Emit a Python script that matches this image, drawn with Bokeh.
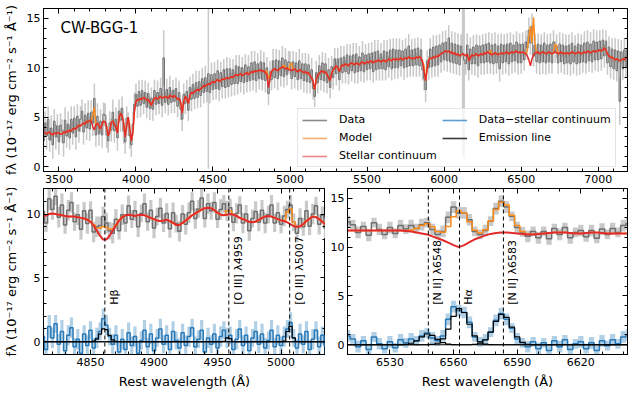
import numpy as np
from bokeh.plotting import figure
from bokeh.models import (SingleIntervalTicker, FixedTicker, LinearAxis, Legend, LegendItem,
                          Span, Label, CustomJSTickFormatter)
from bokeh.layouts import column, row
from bokeh.embed import file_html
from bokeh.resources import INLINE
from bokeh.core.properties import value

FONT = "DejaVu Sans"

# ---------------- data: full spectrum (rest frame, 10 A pixels) ----------------
top_start, top_step = 3400.0, 10.0
flux_top = [
    2.6, 4.4, 3.1, 4.8, 2.7, 3.9, 2.2, 4.6, 3.0, 4.1,
    2.5, 4.2, 3.6, 2.4, 4.7, 3.1, 4.3, 2.9, 4.8, 3.4,
    4.9, 3.0, 5.1, 3.6, 4.8, 5.6, 3.5, 5.2, 3.9, 5.4,
    3.8, 5.5, 4.4, 6.9, 3.2, 5.1, 3.3, 4.6, 3.2, 5.3,
    5.2, 3.2, 2.6, 4.4, 3.7, 5.5, 3.6, 4.8, 2.9, 5.6,
    4.7, 5.9, 3.6, 2.5, 4.9, 4.3, 3.1, 2.2, 4.3, 6.3,
    7.3, 6.1, 7.6, 6.2, 7.7, 6.4, 7.5, 6.0, 7.4, 5.9,
    6.9, 5.8, 7.7, 6.3, 7.5, 6.4, 7.9, 6.2, 11.0, 6.5,
    7.8, 6.3, 8.0, 6.5, 7.7, 6.6, 7.9, 6.1, 7.5, 5.8,
    4.8, 7.3, 6.4, 7.6, 5.7, 8.0, 6.8, 8.3, 6.9, 8.5,
    7.0, 8.6, 7.2, 8.9, 7.5, 9.0, 7.6, 9.4, 7.5, 9.3,
    7.8, 9.4, 7.9, 9.7, 7.8, 9.5, 8.1, 9.8, 8.0, 9.9,
    8.1, 9.9, 8.3, 9.8, 8.4, 10.2, 8.4, 10.1, 8.6, 10.0,
    8.5, 10.3, 8.6, 10.1, 8.7, 10.5, 8.8, 10.6, 8.7, 10.4,
    8.9, 10.6, 8.8, 10.5, 8.7, 10.0, 7.4, 9.6, 8.8, 10.7,
    9.0, 10.8, 8.9, 10.7, 9.2, 11.0, 9.1, 10.8, 9.3, 10.6,
    10.5, 8.9, 10.6, 9.1, 10.5, 8.8, 10.7, 8.9, 10.4, 8.7,
    10.4, 8.6, 10.3, 8.5, 9.8, 7.9, 7.1, 9.5, 8.5, 10.2,
    8.8, 10.5, 8.7, 10.4, 8.5, 9.8, 8.0, 10.1, 9.0, 10.9,
    9.4, 10.9, 8.8, 11.0, 9.5, 11.1, 9.6, 11.3, 9.4, 11.2,
    9.7, 11.3, 9.5, 11.4, 9.6, 11.1, 9.7, 11.5, 9.6, 11.3,
    9.8, 11.4, 9.9, 11.5, 9.6, 11.6, 9.8, 11.7, 9.9, 11.4,
    9.9, 11.7, 9.8, 11.6, 10.1, 11.8, 9.9, 11.9, 10.0, 11.8,
    10.0, 11.8, 10.2, 11.7, 10.0, 11.9, 10.1, 12.2, 10.2, 11.8,
    10.2, 11.9, 10.3, 12.0, 10.2, 11.8, 9.8, 8.9, 7.8, 10.7,
    10.0, 11.9, 10.1, 12.1, 10.2, 12.2, 10.3, 12.3, 10.6, 12.5,
    10.8, 12.6, 10.7, 13.0, 10.6, 12.5, 10.5, 12.4, 10.4, 12.3,
    10.3, 12.2, 11.5, 10.8, 10.4, 12.3, 9.8, 11.9, 10.4, 12.1,
    10.4, 12.3, 10.2, 12.2, 10.5, 12.3, 10.5, 12.4, 10.6, 12.5,
    10.5, 12.3, 10.4, 12.4, 10.5, 12.2, 9.9, 12.4, 10.5, 12.3,
    10.6, 12.4, 10.4, 12.5, 10.6, 12.3, 10.7, 12.6, 10.5, 12.4,
    10.5, 12.4, 10.8, 12.6, 12.0, 13.8, 12.5, 14.2, 11.2, 12.3,
    10.6, 12.4, 10.5, 12.3, 10.6, 12.5, 10.5, 12.3, 10.6, 12.4,
    10.5, 12.6, 11.6, 12.2, 10.5, 12.4, 10.6, 12.3, 10.4, 12.2,
    10.5, 12.3, 10.4, 12.5, 10.6, 12.2, 10.4, 12.4, 10.5, 12.3,
    10.6, 12.5, 10.5, 12.6, 10.7, 12.4, 10.6, 12.7, 10.8, 12.6,
    10.8, 12.7, 10.9, 12.8, 11.2, 12.7, 10.5, 12.1, 10.1, 11.9,
    9.9, 11.8, 9.7, 11.7, 6.6, 11.6, 9.9, 11.8, 10.1, 12.0,
]
err_top = [
    1.3, 1.2, 1.4, 1.3, 1.2, 1.3, 1.4, 1.2, 1.3, 1.2,
    1.3, 1.2, 1.2, 1.4, 1.3, 1.2, 1.3, 1.2, 1.3, 1.2,
    1.2, 1.3, 1.2, 1.2, 1.3, 1.2, 1.3, 1.2, 1.2, 1.3,
    1.2, 1.2, 1.3, 1.5, 1.2, 1.3, 1.2, 1.2, 1.3, 1.2,
    1.2, 1.3, 1.2, 1.2, 1.2, 1.3, 1.2, 1.2, 1.3, 1.2,
    1.2, 1.2, 1.3, 1.2, 1.2, 1.2, 1.3, 1.2, 1.2, 1.2,
    1.1, 1.2, 1.1, 1.2, 1.1, 1.1, 1.2, 1.1, 1.1, 1.2,
    1.1, 1.2, 1.1, 1.1, 1.2, 1.1, 1.1, 1.2, 2.8, 1.1,
    1.1, 1.1, 1.2, 1.1, 1.1, 1.2, 1.1, 1.1, 1.2, 1.1,
    1.2, 1.1, 1.1, 1.2, 1.1, 1.1, 1.2, 1.1, 1.1, 1.2,
    1.1, 1.1, 1.2, 1.1, 1.1, 1.2, 1.1, 9.6, 1.1, 1.2,
    1.1, 1.2, 1.1, 1.1, 1.2, 1.1, 1.2, 1.1, 1.1, 1.2,
    1.1, 1.1, 1.2, 1.1, 1.2, 1.1, 1.1, 1.2, 1.1, 1.1,
    1.2, 1.1, 1.1, 1.2, 1.1, 1.2, 1.1, 1.1, 1.2, 1.1,
    1.1, 1.2, 1.1, 1.1, 1.2, 1.1, 1.2, 1.1, 1.1, 1.2,
    1.1, 1.1, 1.2, 1.1, 1.1, 1.2, 1.1, 1.2, 1.1, 1.1,
    1.2, 1.1, 1.1, 1.2, 1.1, 1.1, 1.2, 1.1, 1.1, 1.2,
    1.1, 1.2, 1.1, 1.1, 1.2, 1.1, 1.1, 1.2, 1.1, 1.1,
    1.1, 1.1, 1.2, 1.1, 1.1, 1.2, 1.1, 1.1, 1.2, 1.1,
    1.2, 1.1, 1.1, 1.2, 1.1, 1.1, 1.2, 1.1, 1.1, 1.2,
    1.1, 1.2, 1.1, 1.1, 1.2, 1.1, 1.1, 1.2, 1.1, 1.1,
    1.1, 1.1, 1.2, 1.1, 1.1, 1.2, 1.1, 1.1, 1.2, 1.1,
    1.2, 1.1, 1.1, 1.2, 1.1, 1.1, 1.2, 1.1, 1.1, 1.2,
    1.1, 1.2, 1.1, 1.1, 1.2, 1.1, 1.1, 1.2, 1.1, 1.1,
    1.1, 1.1, 1.2, 1.1, 1.1, 1.2, 1.1, 1.2, 1.3, 1.1,
    1.2, 1.1, 1.1, 1.2, 1.1, 1.1, 1.2, 1.1, 1.1, 1.2,
    1.1, 1.2, 1.1, 1.3, 1.1, 1.2, 1.1, 1.2, 1.1, 1.2,
    1.1, 1.2, 10.3, 10.0, 1.1, 1.2, 1.1, 1.2, 1.1, 1.2,
    1.2, 1.1, 1.2, 1.1, 1.2, 1.1, 1.2, 1.1, 1.2, 1.1,
    1.1, 1.2, 1.1, 1.2, 1.1, 1.2, 1.3, 1.1, 1.2, 1.1,
    1.2, 1.1, 1.2, 1.1, 1.2, 1.1, 1.2, 1.1, 1.2, 1.1,
    1.1, 1.2, 1.1, 1.2, 1.2, 1.3, 1.2, 1.3, 1.1, 1.2,
    1.2, 1.1, 1.2, 1.1, 1.2, 1.1, 1.2, 1.1, 1.2, 1.1,
    1.1, 1.2, 1.1, 1.2, 1.1, 1.2, 1.1, 1.2, 1.1, 1.2,
    1.2, 1.1, 1.2, 1.1, 1.2, 1.1, 1.2, 1.1, 1.2, 1.1,
    1.1, 1.2, 1.1, 1.2, 1.1, 1.2, 1.1, 1.2, 1.1, 1.2,
    1.2, 1.1, 1.2, 1.1, 1.2, 1.1, 1.2, 1.1, 1.2, 1.1,
    1.1, 1.2, 1.1, 1.2, 2.4, 1.2, 1.1, 1.2, 1.1, 1.2,
]
cont_top = [
    3.5, 3.4, 3.3, 3.4, 3.5, 3.3, 3.2, 3.4, 3.3, 3.4,
    3.4, 3.3, 3.3, 3.5, 3.4, 3.6, 3.5, 3.7, 3.6, 3.8,
    3.9, 3.8, 4.0, 4.2, 4.1, 4.3, 4.4, 4.3, 4.6, 4.5,
    4.7, 4.6, 4.0, 3.7, 4.2, 4.4, 4.1, 3.8, 4.3, 4.6,
    4.5, 4.0, 3.1, 3.6, 4.5, 4.6, 4.3, 4.0, 3.4, 4.9,
    5.4, 5.1, 4.4, 3.0, 4.2, 5.0, 3.8, 2.6, 3.5, 5.6,
    6.6, 6.8, 6.7, 6.9, 6.8, 7.0, 6.9, 6.7, 6.8, 6.5,
    6.2, 6.6, 6.9, 7.0, 6.8, 7.0, 7.1, 6.9, 7.0, 7.1,
    7.0, 6.9, 7.2, 7.1, 7.0, 7.2, 7.0, 6.8, 6.9, 6.5,
    5.4, 6.6, 7.1, 6.8, 6.4, 7.2, 7.5, 7.4, 7.6, 7.7,
    7.8, 7.7, 7.9, 8.0, 8.2, 8.1, 8.3, 8.4, 8.3, 8.5,
    8.6, 8.5, 8.7, 8.8, 8.6, 8.7, 8.9, 8.8, 8.9, 9.0,
    8.9, 9.0, 9.1, 9.0, 9.2, 9.3, 9.2, 9.3, 9.4, 9.2,
    9.3, 9.4, 9.5, 9.3, 9.5, 9.6, 9.5, 9.7, 9.6, 9.7,
    9.7, 9.8, 9.6, 9.7, 9.5, 9.3, 8.0, 8.9, 9.6, 9.8,
    9.9, 9.8, 9.7, 9.9, 10.0, 10.1, 10.0, 9.9, 10.0, 9.8,
    9.8, 9.7, 9.8, 9.9, 9.7, 9.6, 9.8, 9.7, 9.6, 9.5,
    9.6, 9.4, 9.5, 9.2, 9.0, 8.6, 7.8, 8.8, 9.3, 9.4,
    9.6, 9.7, 9.5, 9.6, 9.3, 9.0, 8.7, 9.4, 9.8, 10.0,
    10.2, 10.0, 9.6, 10.1, 10.3, 10.2, 10.4, 10.3, 10.2, 10.4,
    10.5, 10.4, 10.3, 10.5, 10.4, 10.3, 10.5, 10.6, 10.4, 10.5,
    10.6, 10.5, 10.7, 10.6, 10.5, 10.7, 10.6, 10.8, 10.7, 10.6,
    10.7, 10.8, 10.6, 10.7, 10.9, 10.8, 10.7, 10.9, 10.8, 10.9,
    10.8, 10.9, 11.0, 10.8, 10.9, 11.0, 10.9, 11.1, 11.0, 10.9,
    11.0, 10.9, 11.1, 11.0, 11.1, 11.0, 10.6, 9.6, 8.7, 9.9,
    10.8, 11.0, 10.9, 11.1, 11.0, 11.2, 11.1, 11.3, 11.4, 11.5,
    11.6, 11.7, 11.6, 11.7, 11.5, 11.6, 11.4, 11.5, 11.3, 11.4,
    11.2, 11.3, 11.4, 11.3, 11.2, 11.4, 10.7, 11.0, 11.3, 11.2,
    11.3, 11.4, 11.2, 11.3, 11.4, 11.3, 11.5, 11.4, 11.6, 11.5,
    11.4, 11.3, 11.4, 11.5, 11.4, 11.3, 11.4, 11.5, 11.4, 11.5,
    11.5, 11.6, 11.4, 11.5, 11.6, 11.5, 11.6, 11.7, 11.5, 11.6,
    11.5, 11.6, 11.5, 11.4, 11.2, 10.8, 10.2, 10.9, 11.3, 11.5,
    11.5, 11.6, 11.4, 11.5, 11.6, 11.5, 11.4, 11.5, 11.6, 11.5,
    11.4, 11.5, 11.6, 11.5, 11.4, 11.5, 11.6, 11.4, 11.5, 11.4,
    11.5, 11.4, 11.5, 11.6, 11.5, 11.4, 11.5, 11.6, 11.5, 11.4,
    11.5, 11.6, 11.5, 11.7, 11.6, 11.5, 11.6, 11.7, 11.6, 11.7,
    11.7, 11.8, 11.7, 11.8, 12.0, 11.8, 11.4, 11.2, 11.0, 11.1,
    10.9, 10.8, 10.9, 10.8, 10.7, 10.8, 10.9, 10.8, 11.0, 11.1,
]
# emission-line part of the model in the full spectrum (pixel wavelength, flux)
lines_top_wave = [3720, 3730, 4850, 4860, 4870, 4960, 5000, 5010, 5870, 6300,
                  6540, 6550, 6560, 6570, 6580, 6590, 6720, 6730]
lines_top_flux = [1.2, 2.3, 0.4, 0.9, 0.3, 0.3, 0.5, 0.8, 0.6, 0.4,
                  0.6, 2.3, 4.0, 1.6, 3.8, 0.9, 0.8, 0.7]
top_xticks = [3500, 4000, 4500, 5000, 5500, 6000, 6500, 7000]

# ---------------- data: H-beta / [O III] window (2.5 A pixels) ----------------
left_start, left_step = 4812.5, 2.5
cont_l = [
    9.8, 9.9, 10.0, 10.05, 10.0, 9.95, 9.9, 9.85, 9.8, 9.8,
    9.8, 9.75, 9.7, 9.65, 9.55, 9.4, 9.1, 8.7, 8.3, 8.0,
    8.0, 8.3, 8.7, 9.1, 9.5, 9.75, 9.9, 9.95, 9.9, 9.85,
    9.9, 9.95, 9.9, 9.8, 9.7, 9.6, 9.5, 9.45, 9.5, 9.55,
    9.45, 9.3, 9.15, 9.15, 9.3, 9.5, 9.7, 9.9, 10.05, 10.2,
    10.35, 10.45, 10.5, 10.45, 10.3, 10.1, 9.95, 9.9, 9.95, 10.0,
    9.95, 9.85, 9.7, 9.6, 9.5, 9.4, 9.35, 9.4, 9.55, 9.7,
    9.8, 9.85, 9.8, 9.7, 9.6, 9.5, 9.45, 9.35, 9.2, 9.05,
    9.0, 9.05, 9.2, 9.45, 9.65, 9.8, 9.75, 9.6, 9.4, 9.2,
]
resid_l = [
    0.4, -0.6, 1.2, 0.3, 1.4, -0.2, 0.8, -0.7, 0.5, 1.1,
    -0.4, 0.2, -0.9, 0.6, -0.3, 0.9, -0.5, 0.3, 0.8, 1.8,
    1.3, 0.4, -0.2, 0.5, -0.8, 0.2, -0.6, 0.7, -0.3, 0.4,
    -0.9, 0.1, 0.9, -0.4, 0.6, -0.7, 0.3, 1.0, -0.2, 0.5,
    -0.6, 0.8, 0.1, -0.5, 0.7, -0.3, 0.4, 1.1, -0.4, 0.2,
    0.9, -0.8, 0.3, -0.2, 0.6, -0.5, 0.4, 0.9, 0.3, 0.5,
    -0.6, 0.2, 1.0, -0.3, 0.5, -0.7, 0.3, 0.8, -0.2, 0.6,
    -0.5, 0.1, 0.9, -0.4, 0.5, -0.3, 0.4, 1.0, 1.5, 0.3,
    -0.5, 0.6, -0.2, 0.8, -0.6, 0.2, 0.9, -0.4, 0.5, -0.3,
]
err_l = [
    0.8, 0.7, 0.9, 0.8, 0.7, 0.8, 0.9, 0.7, 0.8, 0.8,
    0.7, 0.8, 0.8, 0.7, 0.8, 0.7, 0.8, 0.8, 0.7, 0.8,
    0.8, 0.7, 0.8, 0.8, 0.7, 0.8, 0.7, 0.8, 0.7, 0.8,
    0.8, 0.7, 0.8, 0.7, 0.8, 0.8, 0.7, 0.8, 0.7, 0.8,
    0.7, 0.8, 0.7, 0.8, 0.7, 0.8, 0.8, 0.7, 0.8, 0.7,
    0.8, 0.7, 0.8, 0.7, 0.8, 0.7, 0.8, 0.7, 0.8, 0.7,
    0.7, 0.8, 0.7, 0.8, 0.7, 0.8, 0.7, 0.8, 0.7, 0.8,
    0.8, 0.7, 0.8, 0.7, 0.8, 0.7, 0.8, 0.7, 0.8, 0.7,
    0.7, 0.8, 0.7, 0.8, 0.7, 0.8, 0.7, 0.8, 0.7, 0.8,
]
hb_start, hb_vals = 4852.5, [0.05, 0.2, 0.6, 1.0, 0.95, 0.5, 0.15, 0.03]
o3a_start, o3a_vals = 4955.0, [0.03, 0.3, 0.25, 0.02]
o3b_start, o3b_vals = 5002.5, [0.05, 0.8, 1.2, 0.3, 0.02]
lines_l_wave = [4861.3, 4958.9, 5006.8]
lines_l_name = ["H\u03b2", "[O III] \u03bb4959", "[O III] \u03bb5007"]
left_xticks = [4850, 4900, 4950, 5000]
left_xminor = [4820, 4830, 4840, 4860, 4870, 4880, 4890, 4910, 4920, 4930, 4940,
               4960, 4970, 4980, 4990, 5010, 5020, 5030]

# ---------------- data: H-alpha / [N II] window (2.5 A pixels) ----------------
right_start, right_step = 6510.0, 2.5
cont_r = [
    11.7, 11.7, 11.7, 11.7, 11.7, 11.7, 11.7, 11.7, 11.7, 11.7,
    11.7, 11.65, 11.6, 11.5, 11.4, 11.3, 11.1, 10.9, 10.7, 10.45,
    10.2, 10.0, 10.2, 10.5, 10.8, 11.0, 11.2, 11.35, 11.45, 11.5,
    11.5, 11.45, 11.4, 11.35, 11.3, 11.3, 11.35, 11.4, 11.45, 11.5,
    11.5, 11.5, 11.45, 11.4, 11.4, 11.45, 11.5, 11.5, 11.45, 11.4,
    11.4, 11.4, 11.4, 11.4,
]
resid_r = [
    0.9, 0.6, -0.2, 0.4, -0.5, 0.8, 0.1, -0.4, 0.3, -0.3,
    0.5, 0.2, 0.6, 0.4, 0.9, 1.2, 0.7, 0.4, 0.9, 2.6,
    3.9, 3.5, 3.3, 2.3, 0.8, 0.3, 0.5, 1.3, 2.5, 3.2,
    2.6, 1.7, 0.6, 0.2, -0.2, 0.3, -0.4, 0.2, -0.6, 0.4,
    -0.2, 0.5, -0.5, 0.1, 0.3, -0.4, 0.2, -0.6, 0.4, -0.1,
    0.5, 0.1, 0.8, 1.0,
]
err_r = [
    0.6, 0.5, 0.6, 0.5, 0.6, 0.5, 0.6, 0.5, 0.6, 0.5,
    0.6, 0.5, 0.6, 0.5, 0.6, 0.5, 0.6, 0.5, 0.6, 0.6,
    0.6, 0.6, 0.6, 0.6, 0.5, 0.5, 0.6, 0.5, 0.6, 0.6,
    0.6, 0.5, 0.6, 0.5, 0.6, 0.5, 0.6, 0.5, 0.6, 0.5,
    0.6, 0.5, 0.6, 0.5, 0.6, 0.5, 0.6, 0.5, 0.6, 0.5,
    0.6, 0.5, 0.6, 0.6,
]
n2a_start, n2a_vals = 6537.5, [0.05, 0.15, 0.4, 0.8, 1.1, 0.95, 0.55, 0.22, 0.06, 0.01]
ha_start, ha_vals = 6550.0, [0.03, 0.15, 0.6, 1.6, 2.9, 3.7, 3.3, 2.1, 0.9, 0.3, 0.07, 0.01]
n2b_start, n2b_vals = 6570.0, [0.03, 0.15, 0.5, 1.3, 2.4, 3.1, 2.8, 1.8, 0.8, 0.25, 0.05, 0.01]
lines_r_wave = [6548.1, 6562.8, 6583.5]
lines_r_name = ["[N II] \u03bb6548", "H\u03b1", "[N II] \u03bb6583"]
right_xticks = [6530, 6560, 6590, 6620]
right_xminor = [6510, 6520, 6540, 6550, 6570, 6580, 6600, 6610, 6630, 6640]

# ---------------- colours ----------------
C_DATA, C_ERR = "#6f6f6f", "#c9c9c9"
C_MODEL, C_CONT = "#ff8c1a", "#e32a2a"
C_RES = "#2a7ab8"
YLABEL = "f\u03bb (10\u207b\u00b9\u2077 erg cm\u207b\u00b2 s\u207b\u00b9 \u00c5\u207b\u00b9)"


def grid(start, step, n):
    return start + step * np.arange(n)


def component(start, step, n, c_start, vals):
    arr = np.zeros(n)
    i0 = int(round((c_start - start) / step))
    arr[i0:i0 + len(vals)] = vals
    return arr


def xticker(ticks, minor):
    return FixedTicker(ticks=ticks, minor_ticks=sorted(list(minor) + list(ticks)))


def style(p, xt_major, xt_minor, yint, ymin, xlabel=None, ylabel=None):
    p.xgrid.visible = False
    p.ygrid.visible = False
    p.outline_line_color = "black"
    p.background_fill_color = "white"
    p.border_fill_color = "white"
    p.below[0].ticker = xticker(xt_major, xt_minor)
    p.left[0].ticker = SingleIntervalTicker(interval=yint, num_minor_ticks=ymin)
    p.add_layout(LinearAxis(ticker=xticker(xt_major, xt_minor)), "above")
    p.add_layout(LinearAxis(ticker=SingleIntervalTicker(interval=yint, num_minor_ticks=ymin)), "right")
    for ax in p.below + p.left + p.above + p.right:
        ax.major_tick_in = 5
        ax.major_tick_out = 0
        ax.minor_tick_in = 3
        ax.minor_tick_out = 0
        ax.axis_line_color = "black"
        ax.major_tick_line_color = "black"
        ax.minor_tick_line_color = "black"
        ax.major_label_text_font = FONT
        ax.major_label_text_font_size = "11px"
        ax.major_label_text_color = "black"
        ax.major_label_standoff = 3
        ax.axis_label_text_font = FONT
        ax.axis_label_text_font_size = "13px"
        ax.axis_label_text_font_style = "normal"
        ax.axis_label_text_color = "black"
        ax.axis_label_standoff = 5
    for ax in p.above + p.right:
        ax.formatter = CustomJSTickFormatter(code="return ''")
        ax.major_label_text_font_size = "0px"
        ax.major_label_standoff = 0
    if xlabel:
        p.below[0].axis_label = xlabel
    if ylabel:
        p.left[0].axis_label = ylabel
        p.left[0].axis_label_text_font_size = "13px"
        p.left[0].axis_label_standoff = 5


# ---------------- top panel ----------------
n_top = len(flux_top)
w_top = grid(top_start, top_step, n_top)
f_top = np.array(flux_top)
e_top = np.array(err_top)
c_top = np.array(cont_top)
emis_top = np.zeros(n_top)
for w, f in zip(lines_top_wave, lines_top_flux):
    emis_top[int(round((w - top_start) / top_step))] = f
m_top = c_top + emis_top
top_xminor = [x for x in range(3400, 7200, 100) if x not in top_xticks]

p_top = figure(width=635, height=188, x_range=(3400, 7190), y_range=(-0.5, 16),
               output_backend="svg", toolbar_location=None,
               min_border_left=43, min_border_right=8, min_border_top=8, min_border_bottom=17)
style(p_top, top_xticks, top_xminor, 5, 5, ylabel=YLABEL)
p_top.varea_step(x=w_top, y1=f_top - e_top, y2=f_top + e_top, step_mode="center",
                 fill_color=C_ERR, fill_alpha=1.0)
p_top.step(w_top, f_top, mode="center", line_color=C_DATA, line_width=1)
p_top.line(w_top, m_top, line_color=C_MODEL, line_width=1.4)
p_top.line(w_top, c_top, line_color=C_CONT, line_width=1.5)
p_top.add_layout(Label(x=3510, y=14.05, text="CW-BGG-1", text_font=FONT, text_font_size="15px",
                       text_baseline="middle", text_align="left", text_color="black"))

leg_specs = [("Data", "#8a8a8a"), ("Model", "#f8ae6a"), ("Stellar continuum", "#e98686"),
             ("Data\u2212stellar continuum", "#5b9fd2"), ("Emission line", "#3a3a3a")]
items = []
for name, col in leg_specs:
    r = p_top.line(x=[np.nan, np.nan], y=[np.nan, np.nan], line_color=col, line_width=1.6)
    items.append(LegendItem(label=name, renderers=[r]))
legend = Legend(items=items, location=(254, 4), orientation="vertical", nrows=3,
                label_text_font=FONT, label_text_font_size="11px", label_text_color="black",
                glyph_width=25, glyph_height=12, label_height=12, label_standoff=12,
                spacing=5, padding=4, margin=0,
                border_line_color="#cccccc", border_line_width=1,
                background_fill_color="white", background_fill_alpha=0.8)
p_top.add_layout(legend)


# ---------------- zoom panels ----------------
def make_zoom(start, step, cont, resid, err, comps, lwave, lname, xr, yr, xt, xtm,
              width, mbl, mbr, ylabel, label_y, label_dx):
    n = len(cont)
    w = grid(start, step, n)
    c = np.array(cont)
    r = np.array(resid)
    e = np.array(err)
    d = c + r
    em = [component(start, step, n, cs, cv) for cs, cv in comps]
    model = c + sum(em)
    p = figure(width=width, height=211, x_range=xr, y_range=yr,
               output_backend="svg", toolbar_location=None,
               min_border_left=mbl, min_border_right=mbr, min_border_top=0, min_border_bottom=45)
    style(p, xt, xtm, 5, 5, xlabel="Rest wavelength (\u00c5)", ylabel=ylabel)
    p.varea_step(x=w, y1=d - e, y2=d + e, step_mode="center", fill_color=C_ERR, fill_alpha=1.0)
    p.step(w, d, mode="center", line_color=C_DATA, line_width=1.5)
    p.step(w, model, mode="center", line_color=C_MODEL, line_width=1.5)
    p.line(w, c, line_color=C_CONT, line_width=2)
    p.varea_step(x=w, y1=r - e, y2=r + e, step_mode="center", fill_color="#1f77b4", fill_alpha=0.35)
    p.step(w, r, mode="center", line_color=C_RES, line_width=1.5)
    for comp in em:
        p.step(w, comp, mode="center", line_color="black", line_width=1.2)
    for lw in lwave:
        p.add_layout(Span(location=lw, dimension="height", line_color="black",
                          line_dash="4 3", line_width=1))
    p.text(x=[lw + label_dx for lw in lwave], y=[label_y] * len(lwave), text=lname,
           angle=np.pi / 2, text_align="left", text_baseline="top",
           text_font=value(FONT), text_font_size=value("11px"), text_color="black")
    return p


p_l = make_zoom(left_start, left_step, cont_l, resid_l, err_l,
                [(hb_start, hb_vals), (o3a_start, o3a_vals), (o3b_start, o3b_vals)],
                lines_l_wave, lines_l_name, (4813, 5035), (-1, 12), left_xticks, left_xminor,
                325, 43, 0, YLABEL, 2.9, 2.4)
p_r = make_zoom(right_start, right_step, cont_r, resid_r, err_r,
                [(n2a_start, n2a_vals), (ha_start, ha_vals), (n2b_start, n2b_vals)],
                lines_r_wave, lines_r_name, (6510, 6642), (-1, 16), right_xticks, right_xminor,
                310, 22, 8, None, 4.1, 1.4)

layout = column(p_top, row(p_l, p_r))
open("out.html", "w").write(file_html(layout, INLINE))
